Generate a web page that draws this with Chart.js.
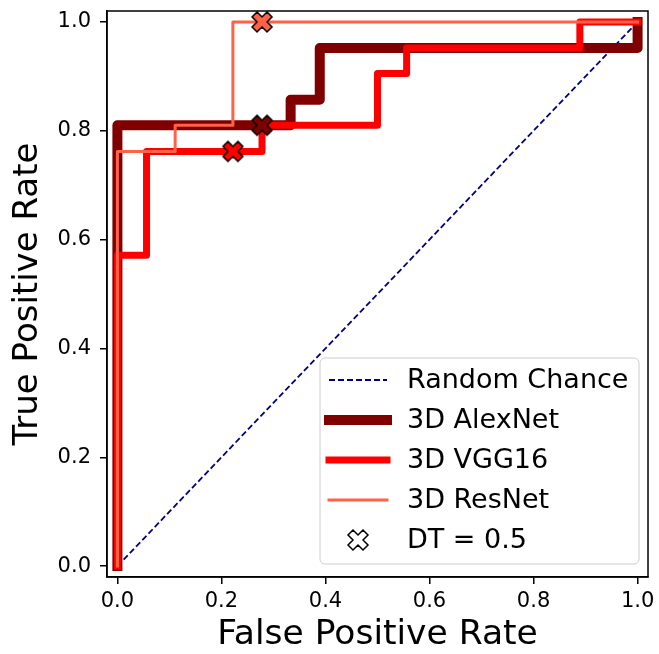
<!DOCTYPE html>
<html>
<head>
<meta charset="utf-8">
<script src="https://cdn.jsdelivr.net/npm/chart.js@4.4.1/dist/chart.umd.min.js"></script>
<style>
body { margin: 0; background: #fff; }
</style>
</head>
<body>
<canvas id="roc" width="659" height="654"></canvas>
<script>
var tickVals = [0, 0.2, 0.4, 0.6, 0.8, 1.0];

var chanceFpr = [0, 1];
var chanceTpr = [0, 1];

var alexFpr = [0, 0, 0.333, 0.333, 0.389, 0.389, 1, 1];
var alexTpr = [0, 0.810, 0.810, 0.857, 0.857, 0.952, 0.952, 1];

var vggFpr = [0, 0, 0.056, 0.056, 0.278, 0.278, 0.5, 0.5, 0.556, 0.556, 0.889, 0.889, 1];
var vggTpr = [0, 0.571, 0.571, 0.762, 0.762, 0.810, 0.810, 0.905, 0.905, 0.952, 0.952, 1, 1];

var resFpr = [0, 0, 0.111, 0.111, 0.222, 0.222, 1];
var resTpr = [0, 0.762, 0.762, 0.810, 0.810, 1, 1];

// threshold 0.5 points: AlexNet, VGG16, ResNet
var dtFpr = [0.278, 0.222, 0.278];
var dtTpr = [0.810, 0.762, 1.0];

var FONT = 'DejaVu Sans';
var alexCol = '#800000', vggCol = '#ff0000', resCol = '#ff6347', chanceCol = '#000080';

function pts(xs, ys) {
	var out = [];
	for (var i = 0; i < xs.length; i++) out.push({x: xs[i], y: ys[i]});
	return out;
}

// filled "X" marker like matplotlib's
function xMarker(fill) {
	var c = document.createElement('canvas');
	c.width = 26; c.height = 26;
	var g = c.getContext('2d');
	var v = [[-1,-2],[0,-1],[1,-2],[2,-1],[1,0],[2,1],[1,2],[0,1],[-1,2],[-2,1],[-1,0],[-2,-1]];
	g.beginPath();
	for (var i = 0; i < v.length; i++) {
		var x = 13 + v[i][0] * 5, y = 13 + v[i][1] * 5;
		if (i == 0) g.moveTo(x, y); else g.lineTo(x, y);
	}
	g.closePath();
	g.fillStyle = fill;
	g.fill();
	g.lineWidth = 1.5;
	g.strokeStyle = '#000';
	g.stroke();
	return c;
}

var frame = {
	id: 'frame',
	afterDatasetsDraw: function(chart) {
		var a = chart.chartArea, ctx = chart.ctx;
		ctx.save();
		ctx.strokeStyle = '#000';
		ctx.lineWidth = 1.5;
		ctx.strokeRect(a.left, a.top, a.right - a.left, a.bottom - a.top);
		ctx.restore();
	}
};

var legendBox = {
	id: 'legendBox',
	afterDraw: function(chart) {
		var ctx = chart.ctx;
		ctx.save();
		ctx.beginPath();
		ctx.roundRect(320, 358, 319, 206, 5);
		ctx.fillStyle = 'rgba(255,255,255,0.8)';
		ctx.fill();
		ctx.strokeStyle = '#cccccc';
		ctx.lineWidth = 1;
		ctx.stroke();

		var items = [
			{text: 'Random Chance', color: chanceCol, w: 2, dash: [6, 3]},
			{text: '3D AlexNet', color: alexCol, w: 10},
			{text: '3D VGG16', color: vggCol, w: 7},
			{text: '3D ResNet', color: resCol, w: 3},
			{text: 'DT = 0.5', marker: true}
		];
		var x0 = 329, x1 = 387, tx = 407;
		ctx.font = '27px "' + FONT + '"';
		ctx.textBaseline = 'middle';
		for (var i = 0; i < items.length; i++) {
			var y = 380 + i * 40;
			var it = items[i];
			if (it.marker) {
				var m = xMarker('#ffffff');
				ctx.drawImage(m, 358 - m.width / 2, y - m.height / 2);
			} else {
				ctx.beginPath();
				ctx.setLineDash(it.dash || []);
				ctx.lineCap = it.dash ? 'butt' : 'square';
				ctx.strokeStyle = it.color;
				ctx.lineWidth = it.w;
				ctx.moveTo(x0, y);
				ctx.lineTo(x1, y);
				ctx.stroke();
				ctx.setLineDash([]);
			}
			ctx.fillStyle = '#000';
			ctx.fillText(it.text, tx, y + 1);
		}
		ctx.restore();
	}
};

function lineSet(label, xs, ys, color, width, order) {
	return {
		type: 'line',
		label: label,
		data: pts(xs, ys),
		borderColor: color,
		backgroundColor: color,
		borderWidth: width,
		pointRadius: 0,
		tension: 0,
		fill: false,
		borderJoinStyle: 'round',
		borderCapStyle: 'square',
		clip: false,
		order: order
	};
}

var chanceSet = lineSet('Random Chance', chanceFpr, chanceTpr, chanceCol, 1.8, 4);
chanceSet.borderDash = [6, 3];
chanceSet.borderCapStyle = 'butt';

var axisTicks = {
	callback: function(v) { return Number(v).toFixed(1); },
	font: {family: FONT, size: 21},
	color: '#000',
	maxRotation: 0,
	autoSkip: false
};

var ctx = document.getElementById('roc');
var chart = new Chart(ctx, {
	type: 'line',
	data: {
		datasets: [
			{
				type: 'scatter',
				label: 'DT = 0.5',
				data: pts(dtFpr, dtTpr),
				pointStyle: [xMarker(alexCol), xMarker(vggCol), xMarker(resCol)],
				pointRadius: 10,
				showLine: false,
				clip: false,
				order: 0
			},
			lineSet('3D ResNet', resFpr, resTpr, resCol, 3, 1),
			lineSet('3D VGG16', vggFpr, vggTpr, vggCol, 7, 2),
			lineSet('3D AlexNet', alexFpr, alexTpr, alexCol, 10, 3),
			chanceSet
		]
	},
	plugins: [frame, legendBox],
	options: {
		responsive: false,
		animation: false,
		layout: {padding: {top: 10, right: 7, left: 0, bottom: 0}},
		plugins: {legend: {display: false}, tooltip: {enabled: false}},
		scales: {
			x: {
				type: 'linear',
				min: -0.02,
				max: 1.02,
				afterBuildTicks: function(s) { s.ticks = tickVals.map(function(v) { return {value: v}; }); },
				afterFit: function(s) { s.height = 77; s.paddingLeft = 0; s.paddingRight = 0; },
				ticks: Object.assign({padding: 5}, axisTicks),
				grid: {drawOnChartArea: false, tickLength: 7, color: '#000', lineWidth: 1.5},
				border: {color: '#000', width: 1.5},
				title: {display: true, text: 'False Positive Rate', color: '#000', font: {family: FONT, size: 34.5, lineHeight: 1.0}, padding: {top: 0, bottom: 2}}
			},
			y: {
				type: 'linear',
				min: -0.02,
				max: 1.02,
				afterBuildTicks: function(s) { s.ticks = tickVals.map(function(v) { return {value: v}; }); },
				afterFit: function(s) { s.width = 107; s.paddingTop = 0; s.paddingBottom = 0; },
				ticks: Object.assign({padding: 9}, axisTicks),
				grid: {drawOnChartArea: false, tickLength: 7, color: '#000', lineWidth: 1.5},
				border: {color: '#000', width: 1.5},
				title: {display: true, text: 'True Positive Rate', color: '#000', font: {family: FONT, size: 34, lineHeight: 1.2}, padding: {top: 8, bottom: 0}}
			}
		}
	}
});
</script>
</body>
</html>
